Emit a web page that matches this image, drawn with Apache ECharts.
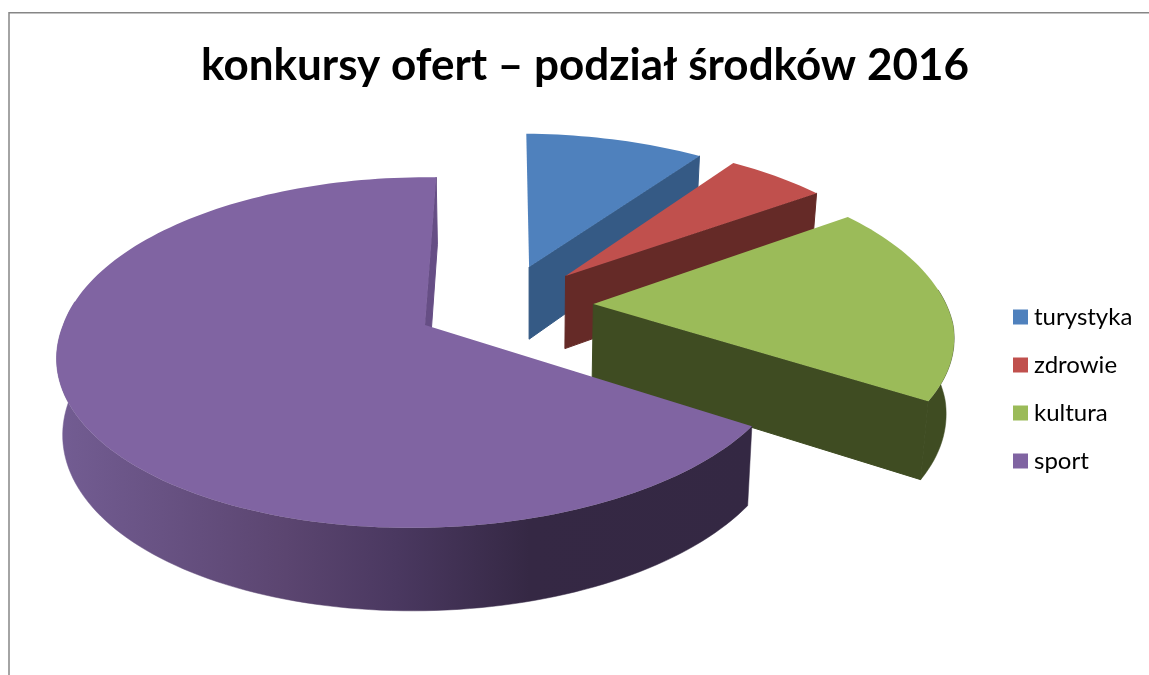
<!DOCTYPE html>
<html>
<head>
<meta charset="utf-8">
<title>konkursy ofert</title>
<style>
  html, body { margin: 0; padding: 0; background: #fff; }
  #chart { width: 1149px; height: 675px; }
</style>
<script src="https://cdn.jsdelivr.net/npm/echarts@6/dist/echarts.min.js"></script>
</head>
<body>
<div id="chart"></div>
<script>
// udziały (%)
const categories = ["turystyka", "zdrowie", "kultura", "sport"];
const shares = [9.5, 5.3, 18.9, 66.3];

const topColors = ["#4f81bd", "#c0504d", "#9bbb59", "#8064a2"];
const faceColors = ["#355a85", "#652a27", "#3f4c22", "#664e85"];
const rimColors = [
  "#355a85",
  "#652a27",
  "#3f4c22",
  [
    { offset: 0, color: "#735d93" },
    { offset: 0.33, color: "#5b4570" },
    { offset: 0.49, color: "#4a3860" },
    { offset: 0.68, color: "#352844" },
    { offset: 1, color: "#342843" },
  ],
];
// przesunięcie wycinków w płaszczyźnie koła (promień = 1)
const explode = [
  [0.299, -0.358],
  [0.402, -0.3],
  [0.471, -0.125],
  [0, 0],
];

const startAngle = 1.5;
const centerX = 425;
const centerY = 325;
const scaleX = 363.6;
const scaleY = 171;
const perspective = 0.157;
const shearBack = 0.02;
const shearFront = 0.07;
const squeeze = 0.034;
const squeezeLeft = 0.005;
const vanishX = 530;

// punkt płaszczyzny koła -> ekran, level 1 = dolna krawędź
function project(px, py, level) {
  const w = 1 - perspective * py;
  const dy = (scaleY * py) / w;
  const over = Math.max(px - 1, 0);
  const left = Math.max(-px, 0);
  const shear = dy > 0 ? shearFront : shearBack;
  let x = centerX + ((scaleX * px) / w) * (1 - squeeze * over * over - squeezeLeft * left) - shear * dy;
  let y = centerY + dy;
  if (level) {
    x = vanishX + (x - vanishX) * (x < vanishX ? 0.987 : 0.981);
    y += 75 + 8 * py;
  }
  return [x, y];
}

function sliceShapes(index) {
  const total = shares.reduce((a, b) => a + b, 0);
  let from = startAngle;
  for (let i = 0; i < index; i++) {
    from += (shares[i] / total) * 360;
  }
  const to = from + (shares[index] / total) * 360;
  const ox = explode[index][0];
  const oy = explode[index][1];

  function rimPoint(deg, level) {
    const rad = (deg * Math.PI) / 180;
    return project(ox + Math.sin(rad), oy - Math.cos(rad), level);
  }

  function arc(a0, a1, level) {
    const points = [];
    for (let a = a0; a < a1; a += 1.5) {
      points.push(rimPoint(a, level));
    }
    points.push(rimPoint(a1, level));
    return points;
  }

  // bok tylko z przodu koła, tył i tak jest zasłonięty
  const rimFrom = Math.max(from, 85);
  const rimTo = Math.min(to, 278);
  const apexTop = project(ox, oy, 0);
  const apexBottom = project(ox, oy, 1);
  return {
    top: [apexTop].concat(arc(from, to, 0)),
    rim: rimFrom < rimTo ? arc(rimFrom, rimTo, 0).concat(arc(rimFrom, rimTo, 1).reverse()) : null,
    face: [apexTop, rimPoint(to, 0), rimPoint(to, 1), apexBottom],
  };
}

function polygon(points, fill, lineWidth) {
  return {
    type: "polygon",
    shape: { points: points },
    style: { fill: fill, stroke: lineWidth ? fill : null, lineWidth: lineWidth },
  };
}

function createRenderSlice(index) {
  return function renderSlice() {
    const shapes = sliceShapes(index);
    const rim = rimColors[index];
    const rimFill = Array.isArray(rim)
      ? new echarts.graphic.LinearGradient(0, 0, 1, 0, rim)
      : rim;
    const children = [];
    if (shapes.rim) {
      children.push(polygon(shapes.rim, rimFill, 0.5));
    }
    children.push(polygon(shapes.face, faceColors[index], 1));
    children.push(polygon(shapes.top, topColors[index], 0));
    return { type: "group", children: children };
  };
}

const chart = echarts.init(document.getElementById("chart"), null, { renderer: "canvas" });

chart.setOption({
  animation: false,
  backgroundColor: "#fff",
  title: {
    text: "konkursy ofert – podział środków 2016",
    left: 580,
    textAlign: "center",
    top: 39,
    textStyle: {
      fontFamily: "Lato",
      fontWeight: "bold",
      fontSize: 44,
      color: "#000",
    },
  },
  legend: {
    orient: "vertical",
    left: 1008,
    top: 300,
    itemWidth: 15,
    itemHeight: 15,
    itemGap: 24,
    icon: "rect",
    selectedMode: false,
    data: categories,
    textStyle: {
      fontFamily: "Lato",
      fontSize: 24,
      color: "#000",
      padding: [0, 0, 0, 1],
    },
  },
  graphic: [
    {
      type: "polyline",
      shape: { points: [[9, 675], [9, 12.7], [1149, 12.7]] },
      style: { fill: null, stroke: "#868686", lineWidth: 1.5 },
    },
  ],
  series: categories.map(function (name, i) {
    return {
      type: "custom",
      name: name,
      coordinateSystem: "none",
      itemStyle: { color: topColors[i] },
      silent: true,
      data: [shares[i]],
      renderItem: createRenderSlice(i),
    };
  }),
});
</script>
</body>
</html>
